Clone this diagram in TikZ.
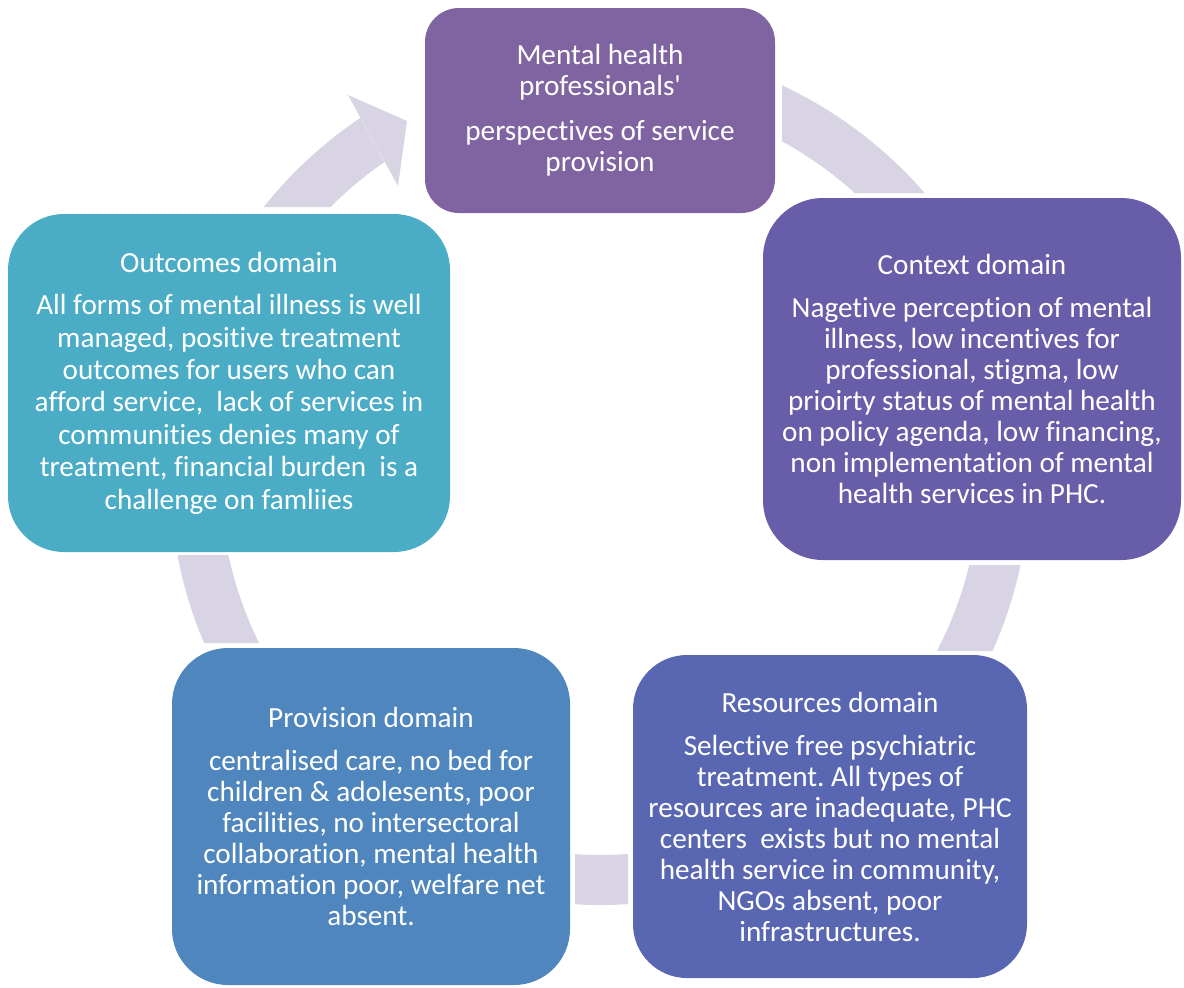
\documentclass[tikz,border=0pt]{standalone}
\usepackage{fontspec}
\setmainfont{Carlito}[Ligatures={TeXOff,NoCommon}]
\frenchspacing
\definecolor{RingGrey}{RGB}{216,212,228}
\definecolor{TopPurple}{RGB}{128,100,162}
\definecolor{CtxPurple}{RGB}{104,93,168}
\definecolor{ResBlue}{RGB}{89,103,178}
\definecolor{ProvBlue}{RGB}{80,134,190}
\definecolor{OutTeal}{RGB}{75,172,198}
\usetikzlibrary{positioning,backgrounds}
\tikzset{>=latex}

\begin{document}
\begin{tikzpicture}[x=0.5pt,y=-0.5pt,
    domainbox/.style={rounded corners=28pt,inner sep=0pt,align=center,text=white,
        font=\fontsize{14.6}{15.5}\selectfont}]
        \useasboundingbox (0,0) rectangle (1184,987);
        % domain boxes
        \node[domainbox,fill=TopPurple,minimum width=175pt,minimum height=102.5pt,rounded corners=17pt] at (600,110.5) (persp)
            {Mental health\\professionals'\\[7pt]perspectives of service\\provision};
        \node[domainbox,fill=CtxPurple,minimum width=209pt,minimum height=181pt,rounded corners=30pt] at (972,379) (context)
            {Context domain\\[6pt]Nagetive perception of mental\\illness, low incentives for\\professional, stigma, low\\prioirty status of mental health\\on policy agenda, low financing,\\non implementation of mental\\health services in PHC.};
        \node[domainbox,fill=ResBlue,minimum width=197pt,minimum height=161.5pt,rounded corners=27pt] at (830,816.5) (resources)
            {Resources domain\\[6pt]Selective free psychiatric\\treatment. All types of\\resources are inadequate, PHC\\centers\ \ exists but no mental\\health service in community,\\NGOs absent, poor\\infrastructures.};
        \node[domainbox,fill=ProvBlue,minimum width=199pt,minimum height=168.5pt] at (371,816.5) (provision)
            {Provision domain\\[6pt]centralised care, no bed for\\children \& adolesents, poor\\facilities, no intersectoral\\collaboration, mental health\\information poor, welfare net\\absent.};
        \node[domainbox,fill=OutTeal,minimum width=221pt,minimum height=169pt,
            font=\fontsize{14.6}{16.2}\selectfont] at (229,383) (outcomes)
            {Outcomes domain\\[5pt]All forms of mental illness is well\\managed, positive treatment\\outcomes for users who can\\afford service,\ \ lack of services in\\communities denies many of\\treatment, financial burden\ \ is a\\challenge on famliies};
        \begin{scope}[on background layer]
            % ring pieces between the boxes
            \begin{scope}
                \clip (782,0) rectangle (1000,193)
                      (850,565) rectangle (1100,651)
                      (575,800) rectangle (628,950)
                      (100,555) rectangle (300,643)
                      (150,207) -- (150,55) -- (326,55) -- (409,207) -- cycle;
                \fill[RingGrey,even odd rule] (600,475) circle (430) (600,475) circle (380);
            \end{scope}
            % head of the arrow into the top box
            \fill[RingGrey] (348,95) -- (407,121) -- (398,186) -- cycle;
        \end{scope}
\end{tikzpicture}
\end{document}
